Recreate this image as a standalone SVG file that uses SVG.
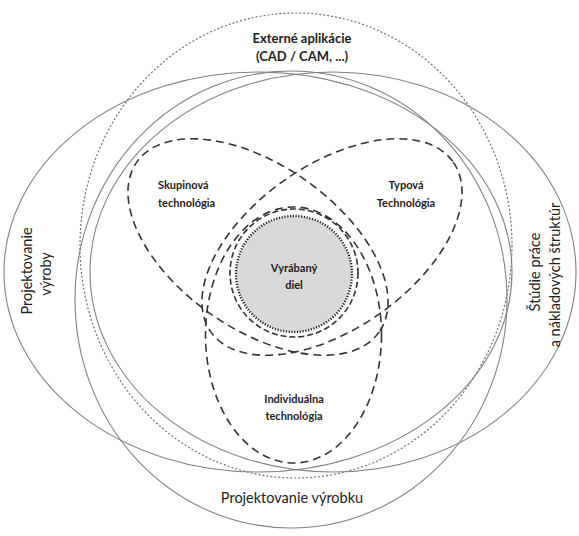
<svg xmlns="http://www.w3.org/2000/svg" width="579" height="536" viewBox="0 0 579 536">
<style>
.solid{fill:none;stroke:#808080;stroke-width:1.1}
.dotted{fill:none;stroke:#707070;stroke-width:1.2;stroke-dasharray:2 2}
.dashed{fill:none;stroke:#333;stroke-width:1.6;stroke-dasharray:8 5}
.t{font-family:Lato,"Open Sans","Liberation Sans",sans-serif;fill:#222}
.b{font-weight:bold;font-size:11px}
.big{font-size:14.5px}
</style>
<rect width="579" height="536" fill="#fff"/>
<g id="connectors"></g>
<g id="ext-aplikacie">
<ellipse class="dotted" cx="296" cy="245.5" rx="216" ry="232.5"/>
<text class="t b" x="302" y="43" text-anchor="middle" style="font-size:13px">Externé aplikácie</text>
<text class="t b" x="302" y="61" text-anchor="middle" style="font-size:13px">(CAD / CAM, ...)</text>
</g>
<g id="proj-vyroby">
<ellipse class="solid" cx="258" cy="272" rx="254" ry="200"/>
<text class="t big" transform="translate(32,271) rotate(-90)" text-anchor="middle">Projektovanie</text>
<text class="t big" transform="translate(51,274) rotate(-90)" text-anchor="middle">výroby</text>
</g>
<g id="studie-prace">
<ellipse class="solid" cx="333" cy="272" rx="243" ry="200"/>
<text class="t big" transform="translate(540,272) rotate(-90)" text-anchor="middle">Štúdie práce</text>
<text class="t big" transform="translate(560,275) rotate(-90)" text-anchor="middle">a nákladových štruktúr</text>
</g>
<g id="proj-vyrobku">
<ellipse class="solid" cx="291" cy="299.5" rx="216" ry="228.5"/>
<text class="t big" x="292" y="503" text-anchor="middle">Projektovanie výrobku</text>
</g>
<g id="skupinova">
<ellipse class="dashed" cx="258" cy="247" rx="148" ry="82" transform="rotate(35 258 247)"/>
<text class="t b" x="158" y="189">Skupinová</text>
<text class="t b" x="158" y="207">technológia</text>
</g>
<g id="typova">
<ellipse class="dashed" cx="332" cy="247" rx="148" ry="82" transform="rotate(-35 332 247)"/>
<text class="t b" x="406" y="189" text-anchor="middle">Typová</text>
<text class="t b" x="406" y="207" text-anchor="middle">Technológia</text>
</g>
<g id="individualna">
<ellipse class="dashed" cx="293.5" cy="335" rx="88" ry="128"/>
<text class="t b" x="294" y="403" text-anchor="middle">Individuálna</text>
<text class="t b" x="294" y="420" text-anchor="middle">technológia</text>
</g>
<g id="vyrabany-diel">
<circle class="dashed" cx="294" cy="273" r="64" style="stroke-dasharray:6 3"/>
<circle cx="294" cy="274" r="58" fill="#d9d9d9" stroke="#222" stroke-width="2.4" stroke-dasharray="1.2 1.6"/>
<text class="t b" x="294" y="272" text-anchor="middle">Vyrábaný</text>
<text class="t b" x="294" y="289" text-anchor="middle">diel</text>
</g>
</svg>
